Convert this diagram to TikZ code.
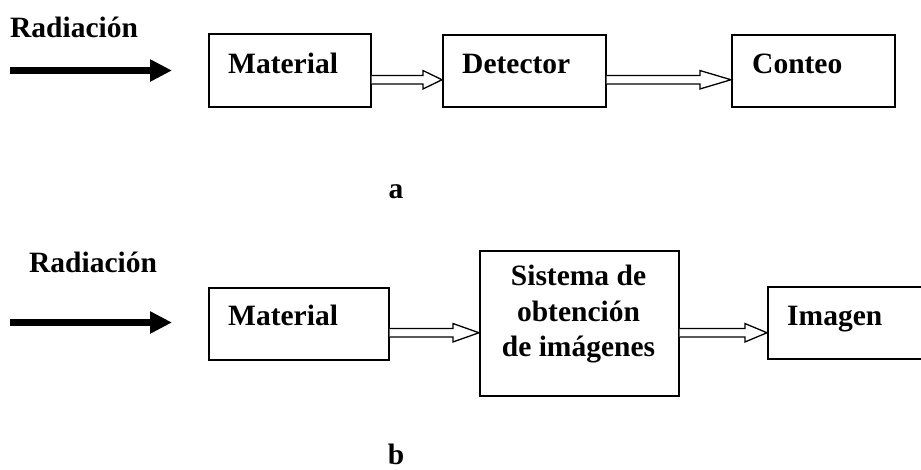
\documentclass[tikz,border=0pt]{standalone}
\usepackage{fontspec}
\setmainfont{Liberation Serif}
\usetikzlibrary{calc,arrows.meta}
\newcommand\dblarr[3]{%
  \draw[line width=1.3pt, fill=white, line join=miter]
    let \p1=(#1), \p2=(#2) in
    (\x1,\y1+4.2pt) -- (\x2-#3,\y1+4.2pt) -- (\x2-#3,\y1+9.2pt) -- (\x2,\y1)
    -- (\x2-#3,\y1-9.2pt) -- (\x2-#3,\y1-4.2pt) -- (\x1,\y1-4.2pt);}
\begin{document}
\begin{tikzpicture}[x=1pt,y=-1pt,
  box/.style={draw, line width=1.5pt, anchor=north west, inner sep=0pt},
  lbl/.style={font=\bfseries\fontsize{29.5}{35.5}\selectfont, inner sep=0pt},
  thick arrow/.style={line width=7pt, -{Triangle[length=22pt,width=21pt]}}]
\clip (0,0) rectangle (921,469);
% ---- part a ----
\node[lbl, anchor=base west] (rada) at (10,37) {Radiación};
\coordinate (ras) at (10,70.5);
\coordinate (rae) at (172,70.5);
\draw[thick arrow] (ras) -- (rae);
\node[box, minimum width=162pt, minimum height=73pt] (mata) at (208,33) {};
\node[lbl, anchor=base west] (tmata) at (228,73) {Material};
\node[box, minimum width=163pt, minimum height=72pt] (deta) at (442,34) {};
\node[lbl, anchor=base west] (tdeta) at (462,73) {Detector};
\node[box, minimum width=163pt, minimum height=72pt] (cona) at (731,34) {};
\node[lbl, anchor=base west] (tcona) at (752,73) {Conteo};
\coordinate (a1s) at ($(mata.east)+(0,9.5)$);
\coordinate (a1e) at (deta.west |- a1s);
\dblarr{a1s}{a1e}{19pt}
\coordinate (a2s) at ($(deta.east)+(0,9)$);
\coordinate (a2e) at (cona.west |- a2s);
\dblarr{a2s}{a2e}{31pt}
\node[lbl, anchor=base] (la) at (396,198) {a};
% ---- part b ----
\node[lbl, anchor=base west] (radb) at (29,272) {Radiación};
\coordinate (rbs) at (10,322.5);
\coordinate (rbe) at (172,322.5);
\draw[thick arrow] (rbs) -- (rbe);
\node[box, minimum width=180pt, minimum height=72pt] (matb) at (208,287) {};
\node[lbl, anchor=base west] (tmatb) at (228,325) {Material};
\node[box, minimum width=199pt, minimum height=145pt] (sis) at (479,250) {};
\node[lbl, anchor=north, align=center] (tsis) at (578.5,265) {Sistema de\\obtención\\de imágenes};
\node[box, minimum width=170pt, minimum height=72pt] (img) at (767,286) {};
\node[lbl, anchor=base west] (timg) at (787,325) {Imagen};
\coordinate (b1s) at ($(matb.east)+(0,9)$);
\coordinate (b1e) at (sis.west |- b1s);
\dblarr{b1s}{b1e}{26pt}
\coordinate (b2s) at (sis.east |- b1s);
\coordinate (b2e) at (img.west |- b1s);
\dblarr{b2s}{b2e}{22pt}
\node[lbl, anchor=base] (lb) at (396,464) {b};
\end{tikzpicture}
\end{document}
